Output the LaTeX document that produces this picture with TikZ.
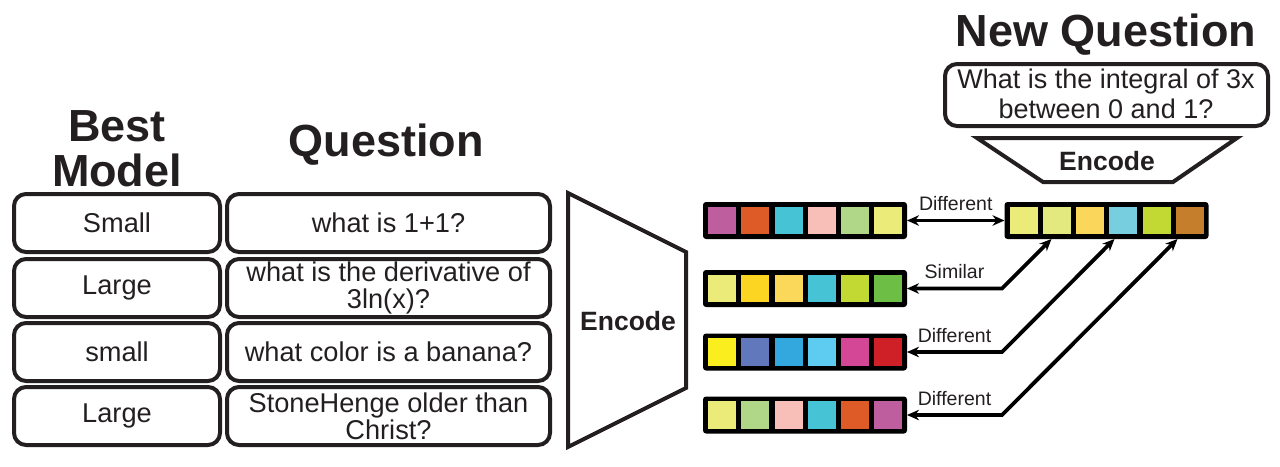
\documentclass[tikz,border=0pt]{standalone}
\usepackage{fontspec}
\setmainfont{Liberation Sans}
\usetikzlibrary{arrows.meta,calc}
\definecolor{ink}{HTML}{231F20}
\definecolor{cP}{HTML}{BE5E9F}
\definecolor{cO}{HTML}{DE5A26}
\definecolor{cC}{HTML}{46C4D6}
\definecolor{cK}{HTML}{F8BFB8}
\definecolor{cG}{HTML}{B0D788}
\definecolor{cY}{HTML}{EBEB7A}
\definecolor{cYa}{HTML}{FCD422}
\definecolor{cYb}{HTML}{FBD85A}
\definecolor{cL}{HTML}{C2D934}
\definecolor{cGr}{HTML}{6DBE45}
\definecolor{cYc}{HTML}{FAEE1E}
\definecolor{cB}{HTML}{6179BC}
\definecolor{cBa}{HTML}{33A8DF}
\definecolor{cBb}{HTML}{5ECBF1}
\definecolor{cM}{HTML}{D44696}
\definecolor{cR}{HTML}{CF2027}
\definecolor{cTa}{HTML}{E3E97E}
\definecolor{cTb}{HTML}{FAD75A}
\definecolor{cTc}{HTML}{76CEDE}
\definecolor{cTd}{HTML}{C47E2C}
\newcommand{\embrow}[4]{%
  \node[emb] (#1) at (#2,#3) {};
  \foreach \cc [count=\ii from 0] in {#4} {
    \fill[fill=\cc] ($(#1.west)+(5+\ii*33.25,-13.75)$) rectangle ++(28,27.5);
  }
}
\begin{document}
\begin{tikzpicture}[x=1pt,y=-1pt,
  >={Stealth[length=12pt,width=10.5pt]},
  tbox/.style={draw=ink, line width=4pt, rounded corners=12pt, minimum height=58pt,
    inner sep=0pt, outer sep=0pt, align=center, text=ink,
    font=\fontsize{27.2}{27}\selectfont},
  hdr/.style={inner sep=0pt, text=ink, font=\fontsize{45}{45}\selectfont\bfseries},
  trap/.style={draw=ink, line width=4pt, line join=miter},
  enc/.style={inner sep=0pt, text=ink, font=\fontsize{26.5}{27}\selectfont\bfseries},
  emb/.style={fill=black, rounded corners=3pt, minimum width=204pt, minimum height=37pt,
    inner sep=0pt, outer sep=0pt},
  conn/.style={draw=black, line width=3.8pt, <->},
  lbl/.style={anchor=base, inner sep=0pt, yshift=10pt, text=ink,
    font=\fontsize{19.5}{20}\selectfont}
]
\useasboundingbox (0,0) rectangle (1280,466);

% headers
\node[hdr, anchor=north, align=center] (bm) at (117,110.5) {Best\\Model};
\node[hdr, anchor=base] (qh) at (386,156) {Question};
\node[hdr, anchor=base] (nq) at (1106,46) {New Question};

% table
\node[tbox, minimum width=206pt] (m1) at (117,223) {Small};
\node[tbox, minimum width=323pt] (q1) at (388.5,223) {what is 1+1?};
\node[tbox, minimum width=206pt] (m2) at (117,288) {Large};
\node[tbox, minimum width=323pt] (q2) at (388.5,288) {what is the derivative of\\3ln(x)?};
\node[tbox, minimum width=206pt] (m3) at (117,352) {small};
\node[tbox, minimum width=323pt] (q3) at (388.5,352) {what color is a banana?};
\node[tbox, minimum width=206pt] (m4) at (117,416) {Large};
\node[tbox, minimum width=323pt] (q4) at (388.5,416) {StoneHenge older than\\Christ?};

% left encoder
\draw[trap] (568,193) -- (686,252) -- (686,388) -- (568,447) -- cycle;
\node[enc] (enc1) at (628,321) {Encode};

% new question box
\node[draw=ink, line width=4pt, rounded corners=12pt, minimum width=323pt,
  minimum height=62pt, inner sep=0pt] (qbox) at (1106.5,95) {};
\node[anchor=north, align=center, inner sep=0pt, text=ink,
  font=\fontsize{27}{30}\selectfont] (qtext) at (1106,69)
  {What is the integral of 3x\\between 0 and 1?};

% top encoder
\draw[trap] (977,138) -- (1237,138) -- (1173,182) -- (1043,182) -- cycle;
\node[enc] (enc2) at (1107,161.5) {Encode};

% embeddings
\embrow{r1}{805}{220.5}{cP,cO,cC,cK,cG,cY}
\embrow{r2}{805}{288.5}{cY,cYa,cYb,cC,cL,cGr}
\embrow{r3}{805}{352}{cYc,cB,cBa,cBb,cM,cR}
\embrow{r4}{805}{415}{cY,cG,cK,cC,cO,cP}
\embrow{tgt}{1106.5}{220.5}{cY,cTa,cTb,cTc,cL,cTd}

% connectors
\draw[conn] (r1.east) -- node[lbl]{Different} (tgt.west);
\draw[conn] (r2.east) -- node[lbl]{Similar} ++(95,0) -- ($(tgt.south west)+(47,0)$);
\draw[conn] (r3.east) -- node[lbl]{Different} ++(95,0) -- ($(tgt.south west)+(110,0)$);
\draw[conn] (r4.east) -- node[lbl]{Different} ++(95,0) -- ($(tgt.south west)+(173,0)$);
\end{tikzpicture}
\end{document}
